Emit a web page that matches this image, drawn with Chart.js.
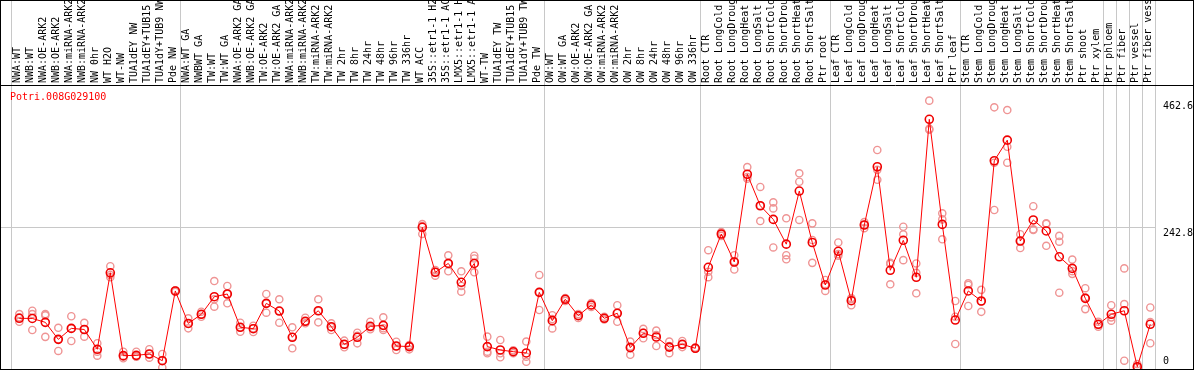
<!DOCTYPE html>
<html><head><meta charset="utf-8">
<script src="https://cdn.jsdelivr.net/npm/chart.js@4.4.1/dist/chart.umd.min.js"></script>
<style>html,body{margin:0;padding:0;background:#fff;overflow:hidden}canvas{display:block}</style>
</head><body>
<canvas id="c" width="1194" height="370"></canvas>
<script>
const labels = [
 'NWA:WT','NWB:WT','NWA:OE-ARK2','NWB:OE-ARK2','NWA:miRNA-ARK2','NWB:miRNA-ARK2','NW 0hr','WT H2O','WT-NW',
 'TUA1dEY NW','TUA1dEY+TUB15','TUA1dY+TUB9 NW','Pde NW',
 'NWA:WT GA','NWBWT GA','TW:WT','TW:WT GA','NWA:OE-ARK2 GA','NWB:OE-ARK2 GA','TW:OE-ARK2','TW:OE-ARK2 GA',
 'NWA:miRNA-ARK2','NWB:miRNA-ARK2','TW:miRNA-ARK2','TW:miRNA-ARK2','TW 2hr','TW 8hr','TW 24hr','TW 48hr','TW 96hr','TW 336hr',
 'WT ACC','35S::etr1-1 H2O','35S::etr1-1 ACC','LMX5::etr1-1 H2O','LMX5::etr1-1 ACC','WT-TW','TUA1dEY TW','TUA1dEY+TUB15','TUA1dY+TUB9 TW','Pde TW',
 'OW:WT','OW:WT GA','OW:OE-ARK2','OW:OE-ARK2 GA','OW:miRNA-ARK2','OW:miRNA-ARK2','OW 2hr','OW 8hr','OW 24hr','OW 48hr','OW 96hr','OW 336hr',
 'Root CTR','Root LongCold','Root LongDrought','Root LongHeat','Root LongSalt','Root ShortCold','Root ShortDrought','Root ShortHeat','Root ShortSalt','Ptr root',
 'Leaf CTR','Leaf LongCold','Leaf LongDrought','Leaf LongHeat','Leaf LongSalt','Leaf ShortCold','Leaf ShortDrought','Leaf ShortHeat','Leaf ShortSalt','Ptr leaf',
 'Stem CTR','Stem LongCold','Stem LongDrought','Stem LongHeat','Stem LongSalt','Stem ShortCold','Stem ShortDrought','Stem ShortHeat','Stem ShortSalt','Ptr shoot',
 'Ptr xylem','Ptr phloem','Ptr fiber','Ptr vessel','Ptr fiber vessel'
];
const means = [
 85.3,85.0,78.3,48.8,67.8,65.9,31.6,164.2,20.5,21.1,23.4,11.8,132.7,
 76.4,92.2,122.7,127.4,69.7,67.3,111.2,97.9,52.4,80.1,98.4,70.7,40.2,52.4,71.4,73.1,37.3,
 36.2,243,165,180.4,147.7,180.4,36.2,30.4,27.4,25.2,130.3,
 81.2,118.2,89.8,108.4,85.3,94,34.5,59.3,52.9,35.4,40.2,33.3,
 173.7,231.4,182.9,335,280.4,256.7,213.8,305.9,216.7,143,
 201.4,115.8,247,348,168.5,220.5,156.4,430.2,248.1,82.3,
 132.7,115.3,358.4,394.1,219.2,255.8,236.7,191.9,171.8,119.9,
 74.9,92.2,98.4,1.4,74.9
];
const rep1 = [
 92.6,98.4,92.6,68.8,88.8,77.4,42.1,175.6,27.4,27.4,31.6,23.4,134,
 85.3,96.7,149.9,141.3,77.7,72.5,127.4,118.2,69.7,86.3,118.2,76.6,46.5,60.3,79.4,87,44.7,
 39,248.7,169,194.4,166.8,193.8,53.5,47.7,29.7,45,160.4,
 90.7,120.3,92.6,111.7,87.9,107.9,45,66.9,64,45,45.9,34.5,
 203.3,234.8,194.7,347.4,313,286.3,258.6,336.6,249.9,151.8,
 216.7,120.3,252,377,181.4,244,180.4,462.6,267.2,115.3,
 145.9,134.6,451,446.3,231,279.6,250,228.1,187.1,137.5,
 79.3,107.9,171.8,6,104
];
const rep2 = [
 86.9,92.6,90.4,48.8,67.8,65.9,27.4,160.4,18.7,19.3,23.4,12,133,
 76,92,118.2,127.4,69.7,68,111,98,53,80,98,70,40,55,70,68,37,
 37,245.3,166,180.4,141.3,189,27.4,24.6,27.4,18.7,130.8,
 84,118.4,89.8,107.9,85,94.6,36.4,60.2,56.4,37.3,40.2,33.5,
 166.1,231,184.2,330.2,280.6,275.8,194.7,322,221,144.2,
 196.6,118.4,247.2,342.6,179.5,230.9,164.2,414,256.7,88.1,
 143,114.6,355,382.7,219.5,239.6,249,218.1,167,121.3,
 74.5,86.9,109.8,1,79
];
const rep3 = [
 79.3,65,53.1,28.7,45.9,53.5,20.5,156.6,16,18.7,17.1,0,131,
 67.9,88,105.4,111.3,62,61.5,95,77.7,33.3,76.6,78.3,65,35,41.9,66.2,65,30.3,
 31.5,231.5,159.1,166.8,131.4,165,24.6,17.7,24.9,10,99.7,
 67.8,115.5,86,105,83.1,79.3,22,50.7,37.3,24.9,35.4,32.5,
 156.6,228.1,169.9,327.3,253.9,208.1,187.6,255.8,181.4,132.7,
 193.8,107.9,241.5,325.4,144.2,186.1,128.6,412,222.2,40.7,
 106.6,96.5,273,355,207.1,238.3,211,129.7,162.3,101.2,
 70.7,81.2,11.8,0,42
];
const groupEnds = [-1, 12, 40, 52, 62, 72, 83, 84, 85, 86, 87];
const yTicks = [0, 242.8, 462.6];
const geneName = 'Potri.008G029100';

const FONT = {family: "'DejaVu Sans Mono', monospace", size: 10};
const repPoints = [];
labels.forEach((_, i) => { [rep1, rep2, rep3].forEach(r => repPoints.push({x: i, y: r[i]})); });
const meanPoints = means.map((v, i) => ({x: i, y: v}));

const framePlugin = {
  id: 'framePlugin',
  beforeDatasetsDraw(chart) {
    const {ctx, scales: {x}} = chart;
    ctx.save();
    ctx.strokeStyle = '#c8c8c8'; ctx.lineWidth = 1;
    groupEnds.forEach(g => {
      const px = Math.round(x.getPixelForValue(g + 0.36)) + 0.5;
      ctx.beginPath(); ctx.moveTo(px, 0); ctx.lineTo(px, chart.height); ctx.stroke();
    });
    ctx.restore();
  },
  afterDraw(chart) {
    const {ctx, chartArea} = chart;
    ctx.save();
    ctx.strokeStyle = '#000'; ctx.lineWidth = 1;
    ctx.strokeRect(0.5, 0.5, chart.width - 1, chart.height - 1);
    ctx.beginPath(); ctx.moveTo(0, chartArea.top + 0.5); ctx.lineTo(chart.width, chartArea.top + 0.5); ctx.stroke();
    ctx.fillStyle = '#ff0000';
    ctx.font = "10px 'DejaVu Sans Mono', monospace";
    ctx.textBaseline = 'middle';
    ctx.fillText(geneName, chartArea.left + 10, chartArea.top + 12);
    ctx.restore();
  }
};

new Chart(document.getElementById('c'), {
  data: {
    datasets: [
      { type: 'line', label: 'mean', data: meanPoints, borderColor: '#ff0000', borderWidth: 1,
        pointRadius: 4, pointBorderWidth: 1.6, pointBorderColor: '#f00000', pointBackgroundColor: 'rgba(0,0,0,0)',
        tension: 0, order: 1 },
      { type: 'scatter', label: 'replicates', data: repPoints, showLine: false,
        pointRadius: 3.6, pointBorderWidth: 1.4, pointBorderColor: '#ef9494', pointBackgroundColor: 'rgba(0,0,0,0)',
        order: 2 }
    ]
  },
  options: {
    responsive: false, animation: false, devicePixelRatio: 1,
    layout: { autoPadding: false, padding: { left: 0, right: 0, top: 0, bottom: 1 } },
    plugins: { legend: { display: false }, tooltip: { enabled: false }, title: { display: false } },
    scales: {
      x: {
        type: 'linear', position: 'top', min: -1.485, max: 87.44, bounds: 'data',
        afterBuildTicks: s => { s.ticks = labels.map((_, i) => ({ value: i })); },
        afterFit: s => { s.height = 85; s.paddingLeft = 0; s.paddingRight = 0; },
        grid: { display: false, drawTicks: false }, border: { display: false },
        ticks: { autoSkip: false, minRotation: 90, maxRotation: 90, padding: 2, labelOffset: 10.5,
          color: '#000', font: FONT,
          callback: v => labels[Math.round(v)] }
      },
      y: {
        type: 'linear', position: 'right', min: -2.6, max: 489.7, bounds: 'data',
        afterBuildTicks: s => { s.ticks = yTicks.map(v => ({ value: v })); },
        afterFit: s => { s.width = 38; s.paddingTop = 0; s.paddingBottom = 0; },
        grid: { drawTicks: false, color: c => (c.tick && c.tick.value === yTicks[1]) ? '#c8c8c8' : 'rgba(0,0,0,0)' },
        border: { display: false },
        ticks: { padding: 7, color: '#000', font: FONT,
          callback: v => v === yTicks[0] ? [String(v), ''] : ['', String(v)] }
      }
    }
  },
  plugins: [framePlugin]
});
</script>
</body></html>
